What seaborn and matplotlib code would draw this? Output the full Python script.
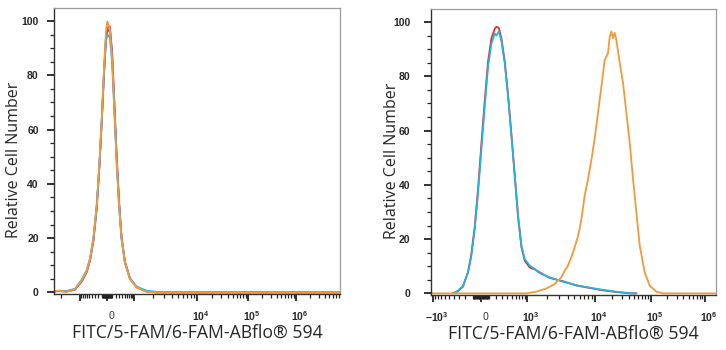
import numpy as np
import pandas as pd
import matplotlib
matplotlib.use('Agg')
import matplotlib.pyplot as plt
import matplotlib.transforms as mtransforms
import seaborn as sns

# ---- data (x in display channels 0-1024, y = % of max) ----
left_ch = [0, 20, 45, 75, 99, 117, 129, 141, 153, 162, 171, 179, 186, 191,
           200, 208, 216, 224, 233, 242, 254, 272, 296, 332, 368, 1024]
left_orange = [0.5, 0.6, 0.2, 1.2, 4.3, 8.0, 12.3, 19.7, 32.0, 46.7, 64.0, 82.4, 96.0, 99.9,
               97.0, 86.0, 67.7, 49.0, 32.0, 19.7, 11.0, 4.9, 1.8, 0.2, 0.0, 0.0]
left_red = [0.3, 0.5, 0.3, 1.0, 4.0, 7.5, 11.8, 19.0, 31.0, 45.5, 63.0, 81.0, 94.0, 97.5,
            98.0, 88.0, 69.5, 50.5, 33.0, 20.0, 11.2, 5.0, 1.9, 0.3, 0.0, 0.0]
left_purple = [0.4, 0.5, 0.3, 1.1, 4.1, 7.6, 11.9, 19.2, 31.3, 45.8, 63.2, 80.5, 93.0, 96.0,
               97.2, 88.5, 70.0, 51.0, 33.5, 20.2, 11.3, 5.1, 1.9, 0.3, 0.0, 0.0]
left_cyan = [0.6, 0.4, 0.5, 1.3, 4.6, 8.2, 12.5, 19.9, 32.3, 46.0, 63.5, 81.0, 92.5, 95.0,
             94.0, 85.0, 67.0, 48.5, 31.5, 19.5, 10.8, 5.2, 2.1, 0.6, 0.2, 0.0]

right_ch_neg = [79, 97, 115, 133, 145, 157, 169, 181, 193, 205, 217, 229, 235, 244, 253,
                265, 277, 289, 301, 313, 325, 337, 355, 373, 390, 426, 474, 522, 570,
                618, 666, 714, 738]
right_cyan = [0.0, 1.0, 2.8, 7.7, 13.8, 23.6, 37.0, 53.0, 69.0, 83.6, 92.0, 95.8, 95.0,
              96.5, 93.0, 84.8, 72.6, 58.0, 43.0, 28.5, 17.5, 12.6, 10.2, 9.0, 7.5, 5.9,
              4.3, 3.0, 2.1, 1.3, 0.6, 0.1, 0.0]
right_red = [0.0, 0.8, 2.5, 7.9, 14.5, 24.5, 38.5, 55.0, 71.0, 85.5, 94.0, 97.5, 98.3,
             97.8, 94.0, 85.5, 73.0, 58.5, 43.5, 28.0, 17.0, 12.0, 9.5, 8.8, 7.8, 5.7,
             4.5, 2.9, 2.0, 1.1, 0.5, 0.0, 0.0]

right_ch_pos = [0, 343, 378, 414, 444, 468, 480, 492, 510, 528, 540, 552, 564, 576, 588,
                600, 612, 624, 636, 642, 648, 654, 660, 666, 678, 690, 702, 714, 726,
                738, 750, 768, 786, 810, 834, 1024]
right_orange = [0.0, 0.0, 0.6, 1.8, 3.4, 5.9, 8.3, 10.2, 15.0, 21.0, 27.0, 36.0, 42.0, 49.0,
                57.0, 66.5, 76.0, 86.0, 88.5, 94.6, 96.5, 94.0, 96.0, 93.4, 85.0, 77.5,
                66.5, 55.4, 42.0, 29.7, 17.5, 7.7, 2.8, 0.6, 0.0, 0.0]

# decade anchors of the biexponential display (intensity -> channel)
decades = [-1e4, -1e3, 0, 1e3, 1e4, 1e5, 1e6, 1e7]
left_decade_ch = [-133, 93, 190, 286, 512, 695, 866, 1037]
right_decade_ch = [-237, 7, 180, 345, 589, 790, 984, 1178]
left_labels = ['', '0', '', '$10^4$', '$10^5$', '$10^6$']
left_label_vals = [-1e3, 0, 1e3, 1e4, 1e5, 1e6]
right_labels = ['$-10^3$', '0', '$10^3$', '$10^4$', '$10^5$', '$10^6$']
right_label_vals = [-1e3, 0, 1e3, 1e4, 1e5, 1e6]

colors = {'red': '#e8302c', 'purple': '#9c4f9a', 'cyan': '#1db4e4', 'orange': '#f4993a'}


def to_channel(v, anchors_ch, w=300.0):
    u = np.arcsinh(np.asarray(decades, float) / w)
    return np.interp(np.arcsinh(np.asarray(v, float) / w), u, anchors_ch)


def minor_values():
    vals = []
    for k in range(3, 7):
        vals += [m * 10 ** k for m in range(2, 10)]
    vals += [-m * 1e3 for m in range(2, 10)]
    for s in (1, -1):
        vals += [s * m * 10 for m in range(1, 10)]
        vals += [s * m * 100 for m in range(1, 10)]
    return vals


def long_frame(pairs):
    parts = []
    for name, xs, ys in pairs:
        parts.append(pd.DataFrame({'ch': xs, 'count': ys, 'sample': name}))
    return pd.concat(parts, ignore_index=True)


sns.set_style('white')
plt.rcParams['font.family'] = ['Open Sans', 'DejaVu Sans']
plt.rcParams['mathtext.fontset'] = 'custom'
plt.rcParams['mathtext.rm'] = 'Liberation Sans:bold'
plt.rcParams['mathtext.it'] = 'Liberation Sans:bold'

fig = plt.figure(figsize=(7.26, 3.5), dpi=100)
ax1 = fig.add_axes([54 / 726, 1 - 294 / 350, 286 / 726, 286 / 350])
ax2 = fig.add_axes([431 / 726, 1 - 295 / 350, 285 / 726, 286 / 350])

df_left = long_frame([('red', left_ch, left_red), ('purple', left_ch, left_purple),
                      ('cyan', left_ch, left_cyan), ('orange', left_ch, left_orange)])
df_right = long_frame([('red', right_ch_neg, right_red), ('cyan', right_ch_neg, right_cyan),
                       ('orange', right_ch_pos, right_orange)])

sns.lineplot(data=df_left, x='ch', y='count', hue='sample', palette=colors, ax=ax1,
             legend=False, estimator=None, sort=False, linewidth=1.3)
sns.lineplot(data=df_right, x='ch', y='count', hue='sample', palette=colors, ax=ax2,
             legend=False, estimator=None, sort=False, linewidth=1.3)

offset = mtransforms.ScaledTranslation(4 / 100, 0, fig.dpi_scale_trans)

for ax, anchors, lab_vals, labs, ypad, ylx in [
        (ax1, left_decade_ch, left_label_vals, left_labels, 6, -0.112),
        (ax2, right_decade_ch, right_label_vals, right_labels, 10, -0.109)]:
    ax.set_xlim(0, 1024)
    ax.set_ylim(-0.6, 104.8)
    ax.set_xticks(to_channel(lab_vals, anchors))
    ax.set_xticklabels(labs)
    mins = to_channel(minor_values(), anchors)
    ax.set_xticks(mins[(mins > 0) & (mins < 1024)], minor=True)
    ax.set_yticks([0, 20, 40, 60, 80, 100])
    ax.set_yticks(np.arange(5, 100, 5), minor=True)
    ax.tick_params(axis='both', which='major', direction='out', length=5, width=1.3,
                   color='#222222', labelsize=7.5)
    ax.tick_params(axis='both', which='minor', direction='out', length=3, width=0.9,
                   color='#222222')
    ax.tick_params(axis='x', which='major', pad=7)
    ax.tick_params(axis='y', which='major', pad=ypad)
    ax.tick_params(bottom=True, left=True, top=False, right=False, which='both')
    for t in ax.get_xticklabels():
        t.set_transform(t.get_transform() + offset)
    for t in ax.get_yticklabels():
        t.set_fontfamily('Liberation Sans')
        t.set_fontweight('bold')
    for side in ['left', 'bottom']:
        ax.spines[side].set_color('#333333')
        ax.spines[side].set_linewidth(1.0)
    for side in ['top', 'right']:
        ax.spines[side].set_color('#9a9a9a')
        ax.spines[side].set_linewidth(0.9)
    ax.set_xlabel('FITC/5-FAM/6-FAM-ABflo® 594', fontsize=12.7)
    ax.set_ylabel('Relative Cell Number', fontsize=11.5)
    ax.xaxis.set_label_coords(0.5, -0.105)
    ax.yaxis.set_label_coords(ylx, 0.47)

fig.savefig('out.png', dpi=100)
